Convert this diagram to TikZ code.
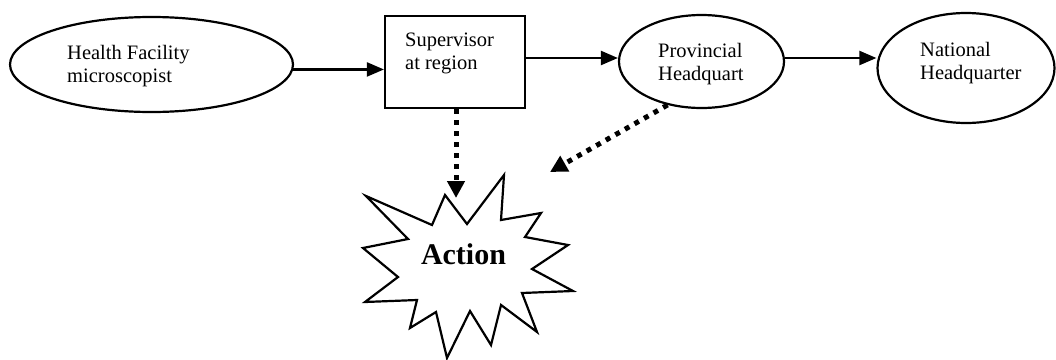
\documentclass[tikz,border=0pt]{standalone}
\usepackage{fontspec}
\setmainfont{Liberation Serif}
\usetikzlibrary{arrows.meta,shapes.geometric}
\tikzset{
  shapeline/.style={draw=black, line width=2.2pt},
  ell/.style={shapeline, ellipse, inner sep=0pt},
  boxnode/.style={shapeline, rectangle, inner sep=0pt},
  lbl/.style={inner sep=0pt, align=left, anchor=base west, font=\fontsize{20.5}{23}\selectfont},
  arr/.style={line width=2.2pt, -{Triangle[length=17pt,width=14pt]}},
  dotarr/.style={line width=5pt, dash pattern=on 5pt off 6pt, -{Triangle[length=17pt,width=17pt]}},
}
\begin{document}
\begin{tikzpicture}[x=1pt,y=-1pt]
\useasboundingbox (0,0) rectangle (1056,359);
% shapes
\node[ell, minimum width=283pt, minimum height=95pt] (hf) at (151.5,64.5) {};
\node[boxnode, minimum width=140pt, minimum height=92pt] (sup) at (455,62) {};
\node[ell, minimum width=165pt, minimum height=93pt] (prov) at (701.5,61.5) {};
\node[ell, minimum width=177pt, minimum height=110pt] (nat) at (966,68) {};
% labels (anchor = baseline of last line)
\node[lbl] (hft) at (67,82) {Health Facility\\microscopist};
\node[lbl] (supt) at (405,69) {Supervisor\\at region};
\node[lbl] (provt) at (658,80) {Provincial\\Headquart};
\node[lbl] (natt) at (920,79) {National\\Headquarter};
% starburst
\draw[shapeline, line join=miter] (366,196) -- (432,225) -- (445,195) -- (467,224) -- (504,175) -- (501,220)
  -- (541,213) -- (525,237) -- (568,245) -- (532,269) -- (573,291) -- (522,293)
  -- (537,332) -- (501,305) -- (491,345) -- (470,311) -- (447,358) -- (436,312)
  -- (410,328) -- (417,300) -- (365,302) -- (398,277) -- (363,248) -- (408,239) -- cycle;
\node[inner sep=0pt, anchor=base, font=\bfseries\fontsize{30}{32}\selectfont] (act) at (463.5,264) {Action};
% connectors
\coordinate (acttop) at (456,198);
\coordinate (actright) at (550,172);
\draw[arr] (hf.-2.6) -- (hf.-2.6 -| sup.west);
\draw[arr] ([yshift=4pt]sup.east) -- ([yshift=4pt]sup.east -| prov.west);
\draw[arr] ([yshift=3.5pt]prov.east) -- ([yshift=3.5pt]prov.east -| nat.west);
\draw[dotarr] (sup.south -| acttop) -- (acttop);
\draw[dotarr] (prov.232) -- (actright);
\end{tikzpicture}
\end{document}
